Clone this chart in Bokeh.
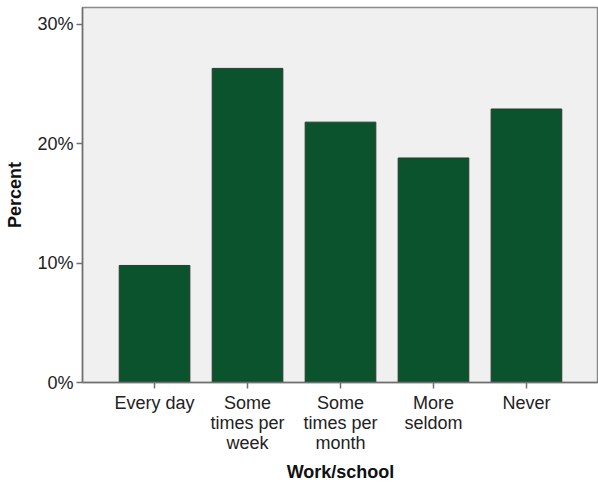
from bokeh.plotting import figure
from bokeh.models import FactorRange, Range1d, PrintfTickFormatter, FixedTicker, ColumnDataSource
from bokeh.embed import file_html
from bokeh.resources import INLINE

categories = ["Every day", "Some\ntimes per\nweek", "Some\ntimes per\nmonth", "More\nseldom", "Never"]
percent = [9.8, 26.3, 21.8, 18.8, 22.9]
y_ticks = [0, 10, 20, 30]

src = ColumnDataSource(dict(cat=categories, pct=percent))

x_range = FactorRange(factors=categories, range_padding=0.275, range_padding_units="absolute")
p = figure(x_range=x_range, y_range=Range1d(0, 31.4), width=598, height=484,
           output_backend="svg", toolbar_location=None,
           min_border_left=82, min_border_right=0, min_border_top=7, min_border_bottom=98)

p.vbar(x="cat", top="pct", width=0.76, source=src, fill_color="#0b532d",
       line_color="#2b3b30", line_width=1)

p.background_fill_color = "#f0f0f0"
p.border_fill_color = "white"
p.outline_line_color = "#8a8a8a"
p.outline_line_width = 1.5
p.xgrid.visible = False
p.ygrid.visible = False

FONT = "Liberation Sans"
for ax in (p.xaxis[0], p.yaxis[0]):
    ax.axis_line_color = "#707070"
    ax.axis_line_width = 1.5
    ax.major_tick_line_color = "#707070"
    ax.major_tick_line_width = 1.5
    ax.major_tick_in = 0
    ax.major_tick_out = 6
    ax.minor_tick_line_color = None
    ax.major_label_text_font = FONT
    ax.major_label_text_font_size = "18px"
    ax.major_label_text_color = "#222222"
    ax.major_label_text_line_height = 1.0
    ax.axis_label_text_font = FONT
    ax.axis_label_text_font_size = "18px"
    ax.axis_label_text_font_style = "bold"
    ax.axis_label_text_color = "#111111"

p.yaxis[0].ticker = FixedTicker(ticks=y_ticks)
p.yaxis[0].formatter = PrintfTickFormatter(format="%d%%")
p.yaxis[0].axis_label = "Percent"
p.yaxis[0].major_label_standoff = 3
p.yaxis[0].axis_label_standoff = 9
p.xaxis[0].axis_label = "Work/school"
p.xaxis[0].major_label_standoff = 4
p.xaxis[0].axis_label_standoff = 6
p.xaxis[0].major_label_orientation = "horizontal"

open("out.html", "w").write(file_html(p, INLINE))
